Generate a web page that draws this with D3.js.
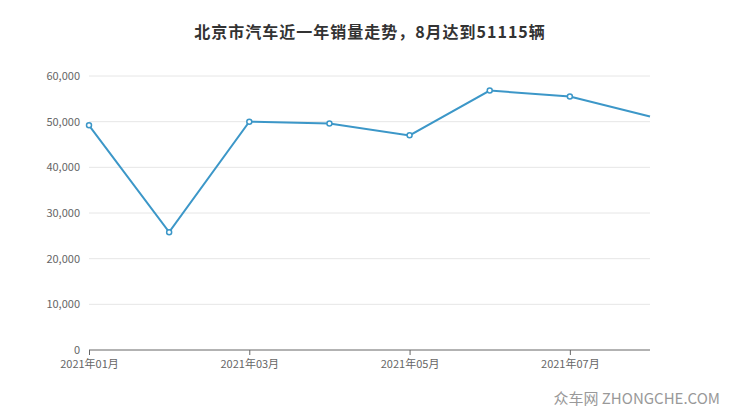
<!DOCTYPE html>
<html>
<head>
<meta charset="UTF-8" />
<script src="https://d3js.org/d3.v7.min.js"></script>
<style>
  body { margin: 0; background: #fff; font-family: "Noto Sans CJK SC", "Noto Sans", sans-serif; }
</style>
</head>
<body>
<svg id="canvas" width="740" height="417"></svg>
<script>
  const months = ["2021年01月", "2021年02月", "2021年03月", "2021年04月", "2021年05月", "2021年06月", "2021年07月", "2021年08月"];
  const sales = [49200, 25800, 50000, 49600, 47000, 56800, 55500, 51115];
  const yTicks = [0, 10000, 20000, 30000, 40000, 50000, 60000];

  const svg = d3.select("#canvas");
  const x = d3.scalePoint().domain(months).range([89, 650]);
  const y = d3.scaleLinear().domain([0, 60000]).range([350, 76]);

  // 标题
  svg.append("text")
    .attr("x", 370).attr("y", 38)
    .attr("text-anchor", "middle")
    .attr("font-size", 16).attr("font-weight", "bold").attr("fill", "#333")
    .attr("letter-spacing", 1)
    .text("北京市汽车近一年销量走势，8月达到51115辆");

  // 网格线
  svg.append("g").selectAll("line").data(yTicks.slice(1)).enter().append("line")
    .attr("x1", 89).attr("x2", 650)
    .attr("y1", (d) => y(d)).attr("y2", (d) => y(d))
    .attr("stroke", "#e6e6e6");

  // y 轴
  svg.append("g").selectAll("text").data(yTicks).enter().append("text")
    .attr("x", 80).attr("y", (d) => y(d) + 4)
    .attr("text-anchor", "end").attr("font-size", 11).attr("fill", "#666")
    .text((d) => d3.format(",")(d));

  // x 轴（只标奇数月）
  const xAxis = svg.append("g").attr("transform", "translate(0,350)")
    .call(d3.axisBottom(x).tickSize(5).tickValues(months.filter((d, i) => i % 2 === 0)));
  xAxis.select(".domain").attr("stroke", "#666").attr("d", "M89,0H650");
  xAxis.selectAll("line").attr("stroke", "#666");
  xAxis.selectAll("text").attr("fill", "#666").attr("font-size", 11)
    .attr("font-family", "'Noto Sans CJK SC', sans-serif").attr("dy", "0.9em");

  // 折线
  const line = d3.line().x((d, i) => x(months[i])).y((d) => y(d));
  svg.append("path").datum(sales)
    .attr("d", line).attr("fill", "none")
    .attr("stroke", "#3c97c8").attr("stroke-width", 2);

  svg.append("g").selectAll("circle").data(sales.slice(0, 7)).enter().append("circle")
    .attr("cx", (d, i) => x(months[i])).attr("cy", (d) => y(d))
    .attr("r", 2.5).attr("fill", "#fff")
    .attr("stroke", "#3c97c8").attr("stroke-width", 1.5);

  // 水印
  svg.append("text")
    .attr("x", 720).attr("y", 404)
    .attr("text-anchor", "end").attr("font-size", 15).attr("fill", "#999")
    .text("众车网 ZHONGCHE.COM");
</script>
</body>
</html>
